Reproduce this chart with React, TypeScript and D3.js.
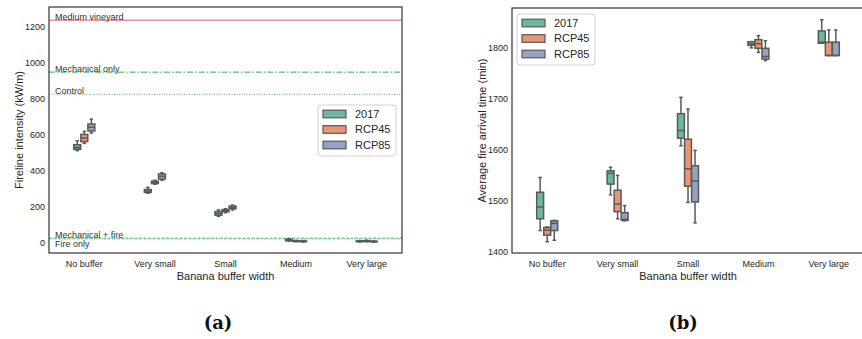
import * as d3 from "d3";
import React from "react";

// categories and series
const buffers = ["No buffer", "Very small", "Small", "Medium", "Very large"];
const scenarios = ["2017", "RCP45", "RCP85"];
const scenarioColors = ["#6db79f", "#e99575", "#95a3c3"];

// panel (a): fireline intensity, box stats [low whisker, q1, median, q3, high whisker]
const intensity2017 = [[515, 522, 532, 548, 570], [278, 283, 291, 299, 311], [150, 156, 165, 176, 185], [12, 14, 18, 22, 26], [8, 9, 11, 13, 15]];
const intensityRcp45 = [[555, 565, 585, 605, 622], [328, 332, 339, 345, 350], [170, 175, 181, 187, 192], [9, 10, 12, 14, 16], [9, 10, 12, 14, 17]];
const intensityRcp85 = [[613, 624, 645, 663, 690], [350, 357, 372, 385, 392], [185, 192, 200, 207, 212], [8, 9, 11, 13, 15], [7, 8, 10, 11, 13]];
const intensityTicks = [0, 200, 400, 600, 800, 1000, 1200];

// reference lines in panel (a)
const refNames = ["Medium vineyard", "Mechanical only", "Control", "Mechanical + fire", "Fire only"];
const refValues = [1240, 951, 828, 28, 24];

// panel (b): fire arrival time
const arrival2017 = [[1442, 1465, 1488, 1517, 1546], [1512, 1533, 1554, 1559, 1566], [1608, 1623, 1638, 1671, 1703], [1800, 1805, 1808, 1812, 1812], [1809, 1809, 1811, 1833, 1855]];
const arrivalRcp45 = [[1420, 1433, 1443, 1448, 1449], [1465, 1479, 1494, 1521, 1550], [1497, 1529, 1563, 1621, 1680], [1791, 1799, 1808, 1816, 1824], [1785, 1785, 1785, 1811, 1835]];
const arrivalRcp85 = [[1423, 1442, 1456, 1461, 1462], [1461, 1462, 1464, 1477, 1491], [1457, 1498, 1539, 1569, 1599], [1775, 1778, 1783, 1799, 1814], [1785, 1785, 1785, 1811, 1835]];
const arrivalTicks = [1400, 1500, 1600, 1700, 1800];

const refStyles = [
  { color: "#e8949c", dash: "", width: 1.5, below: false },
  { color: "#3aaa55", dash: "6,2,1.5,2", width: 1, below: false },
  { color: "#5cbf6c", dash: "1,1.5", width: 1, below: false },
  { color: "#8fd09c", dash: "3,1.5", width: 1.5, below: false },
  { color: "#5cbf6c", dash: "1,1.5", width: 1, below: true },
];

const FONT = "Liberation Sans, Arial, sans-serif";
const EDGE = "#595959";

type Box = number[];
type PanelProps = {
  left: number; right: number; top: number; bottom: number;
  domain: [number, number];
  ticks: number[];
  series: Box[][];
  yLabel: string;
  legend: { x: number; y: number };
  frameRight?: boolean;
  children?: (y: d3.ScaleLinear<number, number>, l: number, r: number) => React.ReactNode;
};

const BoxPanel: React.FC<PanelProps> = ({ left, right, top, bottom, domain, ticks, series, yLabel, legend, children }) => {
  const x = d3.scalePoint<string>().domain(buffers).range([left, right]).padding(0.5);
  const y = d3.scaleLinear().domain(domain).range([bottom, top]);
  const step = x.step();
  const hue = d3.scaleBand<string>().domain(scenarios).range([-0.15 * step, 0.15 * step]);
  const bw = hue.bandwidth() * 0.98;

  return (
    <g>
      {children && children(y, left, right)}
      {series.map((s, si) => s.map((b, ci) => {
        const cx = (x(buffers[ci]) || 0) + (hue(scenarios[si]) || 0) + hue.bandwidth() / 2;
        const [lo, q1, med, q3, hi] = b;
        return (
          <g key={si + "-" + ci} stroke={EDGE} strokeWidth={1.5}>
            <line x1={cx} x2={cx} y1={y(q3)} y2={y(hi)} />
            <line x1={cx} x2={cx} y1={y(q1)} y2={y(lo)} />
            <line x1={cx - bw / 4} x2={cx + bw / 4} y1={y(hi)} y2={y(hi)} />
            <line x1={cx - bw / 4} x2={cx + bw / 4} y1={y(lo)} y2={y(lo)} />
            <rect x={cx - bw / 2} width={bw} y={y(q3)} height={Math.max(0, y(q1) - y(q3))} fill={scenarioColors[si]} />
            <line x1={cx - bw / 2} x2={cx + bw / 2} y1={y(med)} y2={y(med)} />
          </g>
        );
      }))}
      <rect x={left} y={top} width={right - left} height={bottom - top} fill="none" stroke="#333" strokeWidth={1.2} />
      {ticks.map(t => (
        <text key={t} x={left - 4} y={y(t)} dy="0.35em" textAnchor="end" fontSize={9} fontFamily={FONT} fill="#262626">{t}</text>
      ))}
      {buffers.map(c => (
        <text key={c} x={x(c)} y={bottom + 11} dy="0.35em" textAnchor="middle" fontSize={9} fontFamily={FONT} fill="#262626">{c}</text>
      ))}
      <text x={(left + right) / 2} y={bottom + 23} dy="0.35em" textAnchor="middle" fontSize={11} fontFamily={FONT} fill="#262626">Banana buffer width</text>
      <text transform={`translate(${left - 30},${(top + bottom) / 2}) rotate(-90)`} textAnchor="middle" dy="0.35em" fontSize={11} fontFamily={FONT} fill="#262626">{yLabel}</text>
      <g transform={`translate(${legend.x},${legend.y})`}>
        <rect x={0} y={0} width={78} height={51} rx={3} fill="#fff" fillOpacity={0.85} stroke="#d0d0d0" strokeWidth={1} />
        {scenarios.map((s, i) => (
          <g key={s} transform={`translate(5,${9 + i * 15.5})`}>
            <rect x={0} y={-3.8} width={23} height={7.6} fill={scenarioColors[i]} stroke={EDGE} strokeWidth={1.2} />
            <text x={32} y={0} dy="0.35em" fontSize={11} fontFamily={FONT} fill="#262626">{s}</text>
          </g>
        ))}
      </g>
    </g>
  );
};

export default function App() {
  return (
    <svg width={862} height={339} style={{ position: "absolute", left: 0, top: 0, background: "#fff" }}>
      <BoxPanel left={49} right={402} top={7} bottom={253} domain={[-54, 1313]} ticks={intensityTicks}
        series={[intensity2017, intensityRcp45, intensityRcp85]} yLabel="Fireline intensity (kW/m)" legend={{ x: 318, y: 105 }}>
        {(y, l, r) => refNames.map((n, i) => (
          <g key={n}>
            <line x1={l} x2={r} y1={y(refValues[i])} y2={y(refValues[i])} stroke={refStyles[i].color} strokeWidth={refStyles[i].width} strokeDasharray={refStyles[i].dash} />
            <text x={l + 6} y={y(refValues[i])} dy={refStyles[i].below ? "0.9em" : "-0.05em"} fontSize={9} fontFamily={FONT} fill="#333">{n}</text>
          </g>
        ))}
      </BoxPanel>
      <BoxPanel left={512} right={864} top={8} bottom={253} domain={[1398, 1878]} ticks={arrivalTicks}
        series={[arrival2017, arrivalRcp45, arrivalRcp85]} yLabel="Average fire arrival time (min)" legend={{ x: 517, y: 14 }} />
      <text x={218} y={329} textAnchor="middle" fontSize={18} fontWeight="bold" fontFamily="DejaVu Serif, serif" fill="#111">(a)</text>
      <text x={683} y={329} textAnchor="middle" fontSize={18} fontWeight="bold" fontFamily="DejaVu Serif, serif" fill="#111">(b)</text>
    </svg>
  );
}
